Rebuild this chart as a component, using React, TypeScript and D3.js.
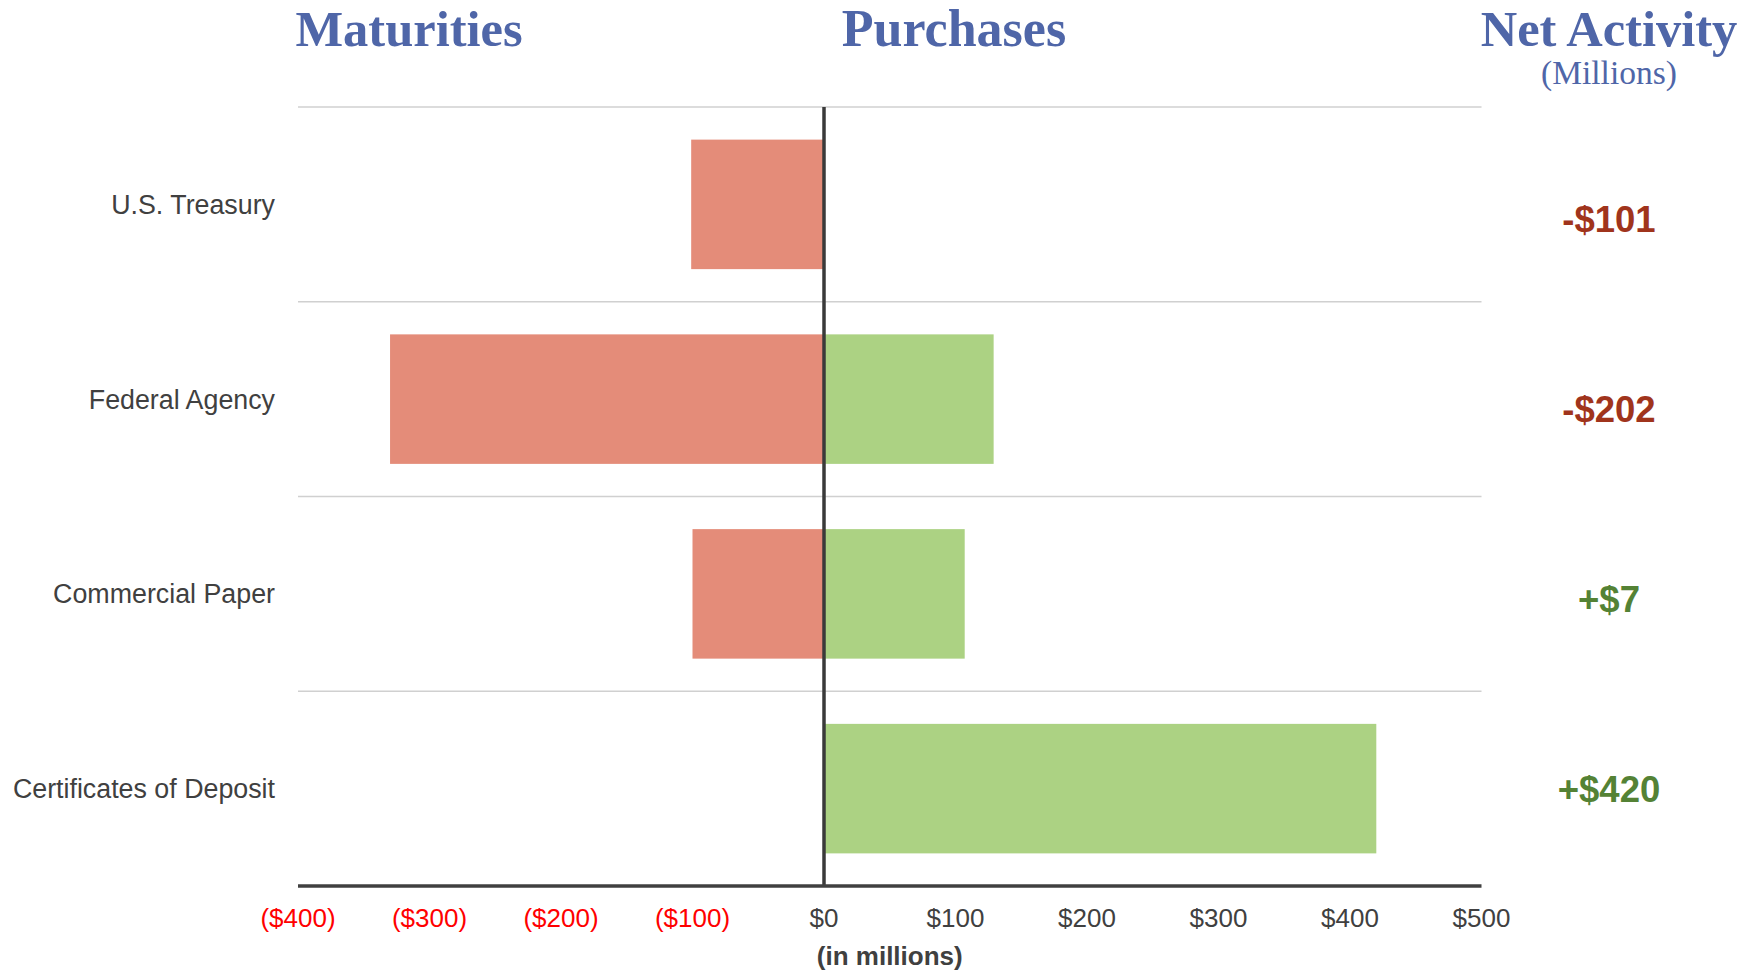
import React from "react";
import * as d3 from "d3";

const categories = ["U.S. Treasury", "Federal Agency", "Commercial Paper", "Certificates of Deposit"];
const maturities = [-101, -330, -100, 0];
const purchases = [0, 129, 107, 420];
const netActivity = [-101, -202, 7, 420];
const tickValues = [-400, -300, -200, -100, 0, 100, 200, 300, 400, 500];

const W = 1744;
const H = 973;

export default function App() {
  const x = d3.scaleLinear().domain([-400, 500]).range([298, 1481.5]);
  const y = d3.scaleBand<string>().domain(categories).range([107, 886]).paddingInner(0.335).paddingOuter(0.1675);
  const step = y.step();
  const netY = d3.scalePoint<string>().domain(categories).range([219, 789]);
  const fmtTick = (v: number) => (v < 0 ? `($${Math.abs(v)})` : `$${v}`);
  const fmtNet = (v: number) => (v < 0 ? `-$${Math.abs(v)}` : `+$${v}`);
  const sans = "Arial, 'Liberation Sans', sans-serif";
  const serif = "'Liberation Serif', 'Times New Roman', serif";
  const titleColor = "#4F66A8";

  return (
    <svg width={W} height={H} style={{ position: "absolute", left: 0, top: 0, display: "block", background: "#fff" }}>
      {/* titles */}
      <text x={409} y={46} textAnchor="middle" fontFamily={serif} fontWeight="bold" fontSize={50.5} fill={titleColor}>Maturities</text>
      <text x={954} y={46} textAnchor="middle" fontFamily={serif} fontWeight="bold" fontSize={52} fill={titleColor}>Purchases</text>
      <text x={1609} y={46} textAnchor="middle" fontFamily={serif} fontWeight="bold" fontSize={50.5} fill={titleColor}>Net Activity</text>
      <text x={1609} y={84} textAnchor="middle" fontFamily={serif} fontSize={33.5} fill={titleColor}>(Millions)</text>

      {/* gridlines at band boundaries */}
      {categories.map((c, i) => {
        const gy = (y(c) as number) - step * 0.1675;
        return <line key={"g" + i} x1={x(-400)} x2={x(500)} y1={gy} y2={gy} stroke="#d0d0d0" strokeWidth={1.5} />;
      })}

      {/* bars */}
      {categories.map((c, i) => (
        <g key={"b" + i}>
          {maturities[i] !== 0 && (
            <rect x={x(maturities[i])} y={y(c)} width={x(0) - x(maturities[i])} height={y.bandwidth()} fill="#E48C79" />
          )}
          {purchases[i] !== 0 && (
            <rect x={x(0)} y={y(c)} width={x(purchases[i]) - x(0)} height={y.bandwidth()} fill="#ACD283" />
          )}
        </g>
      ))}

      {/* zero line */}
      <line x1={x(0)} x2={x(0)} y1={107} y2={886} stroke="#3a3a3a" strokeWidth={3.5} />
      {/* x axis */}
      <line x1={x(-400)} x2={x(500)} y1={886} y2={886} stroke="#404040" strokeWidth={3.5} />

      {/* category labels */}
      {categories.map((c, i) => (
        <text key={"c" + i} x={275} y={(y(c) as number) + y.bandwidth() / 2} dy="0.35em" textAnchor="end" fontFamily={sans} fontSize={26.8} fill="#404040">{c}</text>
      ))}

      {/* tick labels */}
      {tickValues.map((v) => (
        <text key={"t" + v} x={x(v)} y={927} textAnchor="middle" fontFamily={sans} fontSize={26} fill={v < 0 ? "#FF0000" : "#404040"}>{fmtTick(v)}</text>
      ))}
      <text x={(x(-400) + x(500)) / 2} y={965} textAnchor="middle" fontFamily={sans} fontWeight="bold" fontSize={26} fill="#404040">(in millions)</text>

      {/* net activity */}
      {categories.map((c, i) => (
        <text key={"n" + i} x={1609} y={netY(c)} dy="0.35em" textAnchor="middle" fontFamily={sans} fontWeight="bold" fontSize={36.5} fill={netActivity[i] < 0 ? "#A0341C" : "#548235"}>{fmtNet(netActivity[i])}</text>
      ))}
    </svg>
  );
}
